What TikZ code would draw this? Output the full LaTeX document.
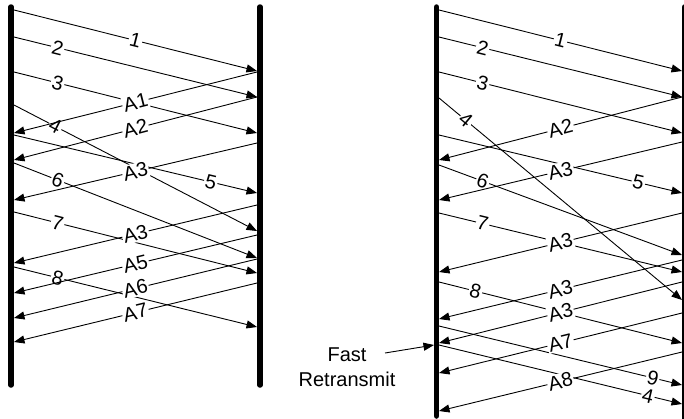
\documentclass[tikz,border=0pt]{standalone}
\usepackage{fontspec}
\setmainfont{Liberation Sans}
\usetikzlibrary{arrows.meta}

\begin{document}
\begin{tikzpicture}[x=1pt,y=-1pt,
    bar/.style={line width=5.5pt,line cap=round},
    msg/.style={line width=0.9pt,-{Triangle[length=10.5pt,width=8pt]}},
    lbl/.style={fill=white,inner sep=1.2pt,sloped,font=\fontsize{20}{22}\selectfont}]
      \useasboundingbox (0,0) rectangle (684,418);
      % left diagram: bars
      \coordinate (aLt) at (11,7);   \coordinate (aLb) at (11,385);
      \coordinate (aRt) at (260,7);  \coordinate (aRb) at (260,385);
      \draw[bar] (aLt) -- (aLb);
      \draw[bar] (aRt) -- (aRb);
      % left diagram: data segments
      \coordinate (ad1s) at (14,10);  \coordinate (ad1e) at (257,71);
      \coordinate (ad2s) at (14,37);  \coordinate (ad2e) at (257,97);
      \coordinate (ad3s) at (14,72);  \coordinate (ad3e) at (257,133);
      \coordinate (ad4s) at (14,105); \coordinate (ad4e) at (257,231);
      \coordinate (ad5s) at (14,135); \coordinate (ad5e) at (257,193);
      \coordinate (ad6s) at (14,163); \coordinate (ad6e) at (257,258);
      \coordinate (ad7s) at (14,212); \coordinate (ad7e) at (257,273);
      \coordinate (ad8s) at (14,267); \coordinate (ad8e) at (257,327);
      \draw[msg] (ad1s) -- node[lbl,pos=.5]{1} (ad1e);
      \draw[msg] (ad2s) -- node[lbl,pos=.18]{2} (ad2e);
      \draw[msg] (ad3s) -- node[lbl,pos=.18]{3} (ad3e);
      \draw[msg] (ad4s) -- node[lbl,pos=.17]{4} (ad4e);
      \draw[msg] (ad5s) -- node[lbl,pos=.81]{5} (ad5e);
      \draw[msg] (ad6s) -- node[lbl,pos=.18]{6} (ad6e);
      \draw[msg] (ad7s) -- node[lbl,pos=.18]{7} (ad7e);
      \draw[msg] (ad8s) -- node[lbl,pos=.18]{8} (ad8e);
      % left diagram: acks
      \coordinate (ak1s) at (257,72);  \coordinate (ak1e) at (14,133);
      \coordinate (ak2s) at (257,97);  \coordinate (ak2e) at (14,160);
      \coordinate (ak3s) at (257,143); \coordinate (ak3e) at (14,200);
      \coordinate (ak4s) at (257,205); \coordinate (ak4e) at (14,263);
      \coordinate (ak5s) at (257,235); \coordinate (ak5e) at (14,293);
      \coordinate (ak6s) at (257,259); \coordinate (ak6e) at (14,318);
      \coordinate (ak7s) at (257,283); \coordinate (ak7e) at (14,342);
      \draw[msg] (ak1s) -- node[lbl]{A1} (ak1e);
      \draw[msg] (ak2s) -- node[lbl]{A2} (ak2e);
      \draw[msg] (ak3s) -- node[lbl]{A3} (ak3e);
      \draw[msg] (ak4s) -- node[lbl]{A3} (ak4e);
      \draw[msg] (ak5s) -- node[lbl]{A5} (ak5e);
      \draw[msg] (ak6s) -- node[lbl]{A6} (ak6e);
      \draw[msg] (ak7s) -- node[lbl]{A7} (ak7e);
      % right diagram: bars
      \coordinate (bLt) at (436.5,7); \coordinate (bLb) at (436.5,416);
      \coordinate (bRt) at (684.5,7); \coordinate (bRb) at (684.5,424);
      \draw[bar] (bLt) -- (bLb);
      \draw[bar] (bRt) -- (bRb);
      % right diagram: data segments
      \coordinate (bd1s) at (439,10);  \coordinate (bd1e) at (682,71);
      \coordinate (bd2s) at (439,37);  \coordinate (bd2e) at (682,97);
      \coordinate (bd3s) at (439,72);  \coordinate (bd3e) at (682,133);
      \coordinate (bd4s) at (439,98);  \coordinate (bd4e) at (682,300);
      \coordinate (bd5s) at (439,135); \coordinate (bd5e) at (682,193);
      \coordinate (bd6s) at (439,165); \coordinate (bd6e) at (682,255);
      \coordinate (bd7s) at (439,213); \coordinate (bd7e) at (682,272);
      \coordinate (bd8s) at (439,282); \coordinate (bd8e) at (682,343);
      \coordinate (bd9s) at (439,326); \coordinate (bd9e) at (682,385);
      \coordinate (bdrs) at (439,345); \coordinate (bdre) at (682,404);
      \draw[msg] (bd1s) -- node[lbl,pos=.5]{1} (bd1e);
      \draw[msg] (bd2s) -- node[lbl,pos=.18]{2} (bd2e);
      \draw[msg] (bd3s) -- node[lbl,pos=.18]{3} (bd3e);
      \draw[msg] (bd4s) -- node[lbl,pos=.11]{4} (bd4e);
      \draw[msg] (bd5s) -- node[lbl,pos=.82]{5} (bd5e);
      \draw[msg] (bd6s) -- node[lbl,pos=.18]{6} (bd6e);
      \draw[msg] (bd7s) -- node[lbl,pos=.18]{7} (bd7e);
      \draw[msg] (bd8s) -- node[lbl,pos=.15]{8} (bd8e);
      \draw[msg] (bd9s) -- node[lbl,pos=.88]{9} (bd9e);
      \draw[msg] (bdrs) -- node[lbl,pos=.86]{4} (bdre);
      % right diagram: acks
      \coordinate (bk2s) at (682,97);  \coordinate (bk2e) at (439,160);
      \coordinate (bk3s) at (682,142); \coordinate (bk3e) at (439,200);
      \coordinate (bk4s) at (682,213); \coordinate (bk4e) at (439,272);
      \coordinate (bk5s) at (682,260); \coordinate (bk5e) at (439,319);
      \coordinate (bk6s) at (682,282); \coordinate (bk6e) at (439,343);
      \coordinate (bk7s) at (682,313); \coordinate (bk7e) at (439,373);
      \coordinate (bk8s) at (682,352); \coordinate (bk8e) at (439,411);
      \draw[msg] (bk2s) -- node[lbl]{A2} (bk2e);
      \draw[msg] (bk3s) -- node[lbl]{A3} (bk3e);
      \draw[msg] (bk4s) -- node[lbl]{A3} (bk4e);
      \draw[msg] (bk5s) -- node[lbl]{A3} (bk5e);
      \draw[msg] (bk6s) -- node[lbl]{A3} (bk6e);
      \draw[msg] (bk7s) -- node[lbl]{A7} (bk7e);
      \draw[msg] (bk8s) -- node[lbl]{A8} (bk8e);
      % fast retransmit
      \node[align=center,font=\fontsize{20}{25}\selectfont] (fast) at (347,367) {Fast\\Retransmit};
      \coordinate (fastfrom) at (385,353);
      \coordinate (fastto) at (434,345);
      \draw[msg] (fastfrom) -- (fastto);
\end{tikzpicture}
\end{document}
